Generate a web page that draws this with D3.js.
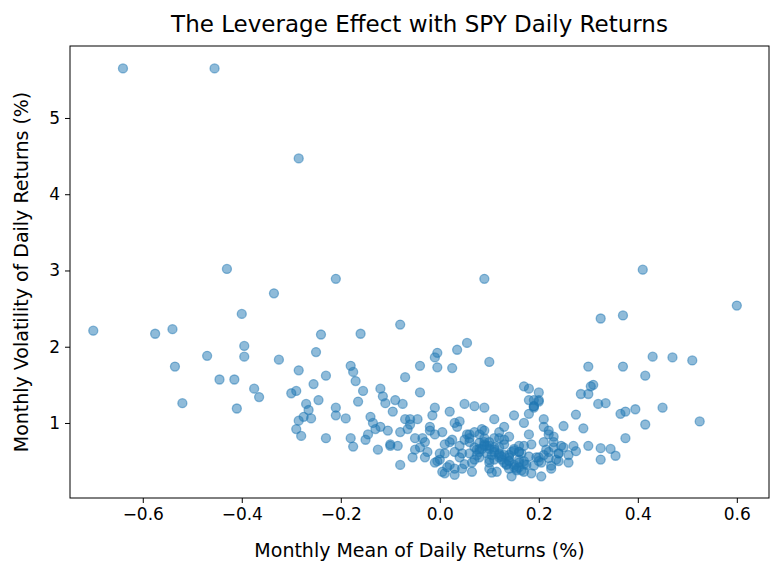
<!DOCTYPE html>
<html><head><meta charset="utf-8">
<script src="https://cdn.jsdelivr.net/npm/d3@7"></script>
<style>body{margin:0;background:#fff}text{font-family:"DejaVu Sans",sans-serif}</style>
</head><body><svg id="c" width="783" height="577"></svg>
<script>
const meanReturns = [-0.64,-0.455,-0.285,-0.43,-0.21,0.09,0.41,0.60,-0.70,-0.335,-0.40,-0.575,-0.54,-0.395,-0.47,-0.395,-0.535,-0.445,-0.415,-0.52,-0.41,-0.375,-0.365,-0.325,-0.24,-0.25,-0.16,-0.08,0.325,0.37,0.43,0.47,0.51,0.525,0.45,0.415,0.415,0.37,0.395,0.375,0.365,0.375,0.30,0.31,0.305,0.32,0.335,0.285,0.30,0.275,0.29,0.30,0.325,0.345,0.355,0.325,0.275,0.26,0.26,0.10,0.055,0.035,-0.005,-0.01,0.025,-0.005,-0.04,-0.07,-0.29,-0.30,-0.285,-0.23,-0.255,-0.27,-0.265,-0.275,-0.26,-0.285,-0.28,-0.29,-0.245,-0.23,-0.18,-0.175,-0.17,-0.155,-0.165,-0.19,-0.21,-0.21,-0.18,-0.175,
-0.15,-0.14,-0.13,-0.12,-0.11,-0.10,-0.09,-0.08,-0.07,-0.06,-0.05,-0.04,-0.03,-0.02,-0.01,0.00,0.01,0.02,0.03,0.04,0.05,0.06,0.07,0.08,0.09,0.10,0.11,0.12,0.13,0.14,0.15,0.16,0.17,0.18,0.19,0.20,0.21,0.22,0.23,0.24,0.25,
-0.145,-0.135,-0.125,-0.115,-0.105,-0.095,-0.085,-0.075,-0.065,-0.055,-0.045,-0.035,-0.025,-0.015,-0.005,0.005,0.015,0.025,0.035,0.045,0.055,0.065,0.075,0.085,0.095,0.105,0.115,0.125,0.135,0.145,0.155,0.165,0.175,0.185,0.195,0.205,0.215,0.225,0.235,0.245,
-0.12,-0.10,-0.08,-0.06,-0.04,-0.02,0.00,0.02,0.04,0.06,0.08,0.09,0.10,0.11,0.12,0.13,0.14,0.15,0.16,0.17,0.18,0.19,0.20,0.21,0.22,0.23,0.24,
0.06,0.07,0.08,0.09,0.10,0.11,0.12,0.13,0.14,0.15,0.16,0.17,0.18,0.19,0.20,0.21,0.22,0.08,0.09,0.10,0.11,0.12,0.13,0.14,0.15,0.16,0.17,
-0.05,-0.03,-0.01,0.01,0.03,0.05,0.07,0.02,0.04,0.06,0.08,0.10,0.12,0.14,0.16,0.18,0.20,0.22,0.17,0.19,0.21,0.23,0.25,0.27,0.15,0.13,0.11,0.09,0.07,0.05,0.03,0.01,
-0.01,0.005,0.03,0.045,0.065,0.09,0.105,0.125,0.145,0.165,0.185,0.205,0.225,0.24,0.17,0.18,0.19,0.2,0.12,0.14,0.16,0.095,0.1,0.085,0.075,0.11,0.135,0.155];
const volatility = [5.65,5.65,4.47,3.02,2.89,2.89,3.01,2.54,2.21,2.70,2.43,2.17,2.23,2.01,1.88,1.87,1.74,1.57,1.57,1.26,1.19,1.45,1.34,1.83,2.16,1.93,2.17,2.29,2.37,2.41,1.87,1.86,1.82,1.02,1.20,1.62,0.98,1.74,1.18,1.15,1.12,0.80,1.74,1.50,1.48,1.25,1.26,1.38,1.38,1.11,0.93,0.70,0.67,0.66,0.57,0.52,0.63,0.58,0.48,1.80,2.05,1.96,1.92,1.86,1.72,1.73,1.75,1.60,1.42,1.39,1.69,1.62,1.51,1.25,1.17,1.08,1.06,1.03,0.83,0.92,1.30,0.80,1.75,1.67,1.55,1.42,1.28,1.06,1.10,1.20,0.80,0.69,
0.78,1.08,0.92,1.45,1.26,0.70,1.30,0.45,1.05,0.98,0.80,1.40,0.75,0.95,1.20,0.52,0.60,1.15,1.00,0.70,1.25,0.85,1.22,0.55,0.75,0.40,0.65,0.60,0.78,0.55,0.45,0.70,0.50,0.85,1.30,0.55,0.75,0.62,0.82,0.60,0.68,
0.85,1.00,0.65,1.35,0.90,1.15,0.70,1.25,0.92,0.55,1.05,0.80,0.62,1.10,0.50,0.88,0.42,0.78,0.95,0.60,0.85,0.48,0.65,0.92,0.70,0.58,0.36,0.52,0.45,0.62,0.38,0.60,0.45,0.72,0.55,0.48,0.65,0.40,0.52,0.70,
0.95,0.72,0.88,1.05,0.68,0.90,0.60,0.75,1.02,0.80,0.66,0.72,0.52,0.68,0.80,0.58,0.50,0.42,0.62,0.70,1.45,1.22,1.28,0.95,0.85,0.75,0.60,
0.60,0.68,0.74,0.80,0.70,0.62,0.55,0.48,0.58,0.64,0.52,0.46,0.56,0.44,0.50,0.58,0.54,0.85,0.90,0.66,0.80,0.58,0.72,0.50,0.66,0.42,0.36,
0.65,0.55,0.85,0.72,0.62,0.78,0.88,0.45,0.55,0.75,0.62,0.48,0.68,0.40,0.48,1.30,1.40,0.90,1.48,1.20,1.05,0.68,0.96,0.70,1.10,0.95,1.05,1.20,0.52,0.46,0.40,0.34,
0.48,0.36,0.32,0.40,0.36,0.70,0.35,0.56,0.30,0.38,0.34,0.30,0.44,0.50,1.00,1.12,1.22,1.30,0.88,0.82,0.62,0.60,0.75,0.66,0.58,0.52,0.46,0.40];
const xTicks = [-0.6,-0.4,-0.2,0.0,0.2,0.4,0.6];
const yTicks = [1,2,3,4,5];

const svg = d3.select("#c");
const L=70,R=769,T=46,B=498;
const x = d3.scaleLinear().domain([-0.747,0.665]).range([L,R]);
const y = d3.scaleLinear().domain([0.016,5.944]).range([B,T]);
const data = meanReturns.map((m,i)=>({m,v:volatility[i]}));
svg.append("g").selectAll("circle").data(data).join("circle")
 .attr("cx",d=>x(d.m)).attr("cy",d=>y(d.v)).attr("r",4.5)
 .attr("fill","#1f77b4").attr("fill-opacity",0.5).attr("stroke","#1f77b4").attr("stroke-opacity",0.5).attr("stroke-width",1.3);
const xa = svg.append("g").attr("transform",`translate(0,${B})`).call(d3.axisBottom(x).tickValues(xTicks).tickFormat(d=>d===0?"0.0":d3.format(".1f")(d).replace("-","−")).tickSize(5).tickPadding(5));
const ya = svg.append("g").attr("transform",`translate(${L},0)`).call(d3.axisLeft(y).tickValues(yTicks).tickFormat(d3.format("d")).tickSize(5).tickPadding(5));
[xa,ya].forEach(a=>{a.selectAll("text").attr("font-size",17).attr("fill","#000").attr("font-family","DejaVu Sans");a.select(".domain").remove();a.selectAll("line").attr("stroke","#000");});
svg.append("rect").attr("x",L).attr("y",T).attr("width",R-L).attr("height",B-T).attr("fill","none").attr("stroke","#000").attr("stroke-width",1);
svg.append("text").attr("x",(L+R)/2).attr("y",32).attr("text-anchor","middle").attr("font-size",23).text("The Leverage Effect with SPY Daily Returns");
svg.append("text").attr("x",(L+R)/2).attr("y",557).attr("text-anchor","middle").attr("font-size",19).text("Monthly Mean of Daily Returns (%)");
svg.append("text").attr("transform",`translate(28,${(T+B)/2}) rotate(-90)`).attr("text-anchor","middle").attr("font-size",19).text("Monthly Volatility of Daily Returns (%)");
</script></body></html>
